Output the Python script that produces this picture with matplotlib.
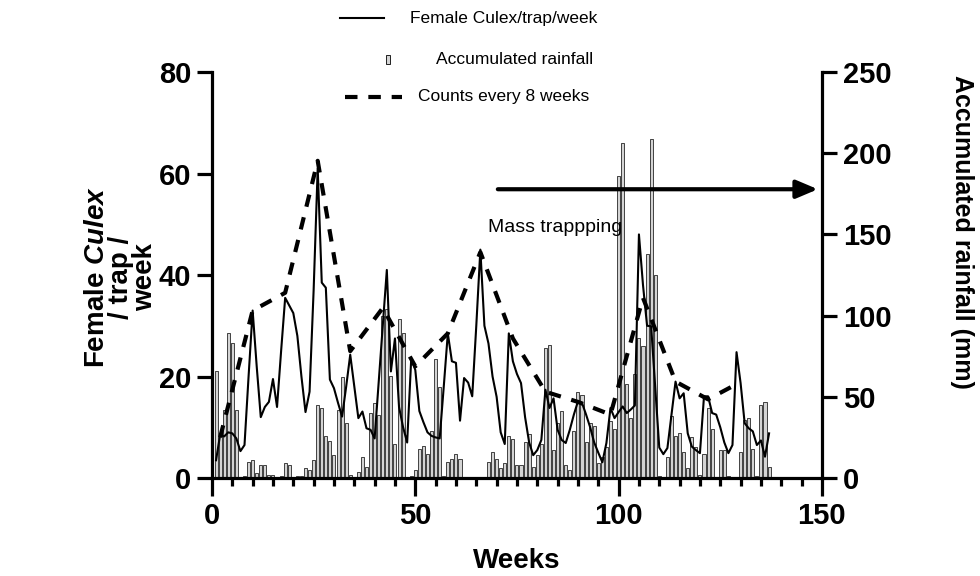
import matplotlib
matplotlib.use("Agg")
import matplotlib.pyplot as plt
import numpy as np
from matplotlib.lines import Line2D
from matplotlib.patches import Rectangle
from matplotlib.ticker import MultipleLocator

plt.rcParams["font.family"] = ["Liberation Sans", "DejaVu Sans"]
plt.rcParams["mathtext.fontset"] = "custom"
plt.rcParams["mathtext.it"] = "Liberation Sans:italic:bold"
plt.rcParams["mathtext.rm"] = "Liberation Sans:bold"

# weekly data, weeks 1..137
weeks = np.arange(1, 138)

rainfall_mm = [
    66, 28, 42, 89, 83, 42, 0, 1, 10, 11,
    3, 8, 8, 2, 2, 0, 1, 9, 8, 0,
    1, 1, 6, 5, 11, 45, 43, 26, 23, 14,
    42, 62, 34, 2, 0, 4, 13, 7, 40, 46,
    39, 100, 104, 63, 21, 98, 89, 0, 1, 5,
    18, 20, 15, 29, 73, 56, 1, 10, 12, 15,
    12, 0, 0, 0, 0, 0, 0, 10, 16, 12,
    6, 9, 26, 24, 8, 8, 22, 27, 7, 14,
    21, 80, 82, 17, 34, 41, 8, 5, 29, 53,
    51, 22, 34, 32, 9, 13, 19, 35, 30, 186,
    206, 58, 37, 64, 86, 81, 138, 209, 125, 1,
    0, 13, 38, 26, 28, 16, 6, 25, 19, 2,
    15, 43, 30, 0, 17, 17, 1, 0, 0, 16,
    36, 37, 18, 1, 45, 47, 7,
]

culex_week = [
    3.5, 8.5, 8.2, 9.0, 8.8, 7.8, 5.3, 6.5, 20, 33,
    22, 12, 14, 15, 19.5, 14, 25, 35.5, 34, 32.5,
    28, 20, 13, 17, 37, 61, 38.5, 37.5, 19.4, 17.7,
    14.8, 12.1, 18, 24.3, 18, 11.8, 13.1, 9.8, 9.5, 7.8,
    19, 30, 41, 21, 27.5, 14, 10, 7, 23.5, 21.3,
    13.2, 11, 9, 8.3, 8, 7.8, 18, 28.5, 23, 22.7,
    11.3, 19.7, 18.8, 16.1, 30, 45, 30, 26.5, 20, 16,
    9, 6.7, 28.5, 23, 20.5, 18.7, 12, 7, 4.5, 5.5,
    7.5, 17.4, 13.8, 15.7, 9.5, 7.5, 6.9, 9.5, 12.5, 15.1,
    14.8, 12.5, 10, 7, 5, 3.1, 6.9, 13.8, 11.8, 13,
    14.1, 12.8, 13.5, 14.3, 48, 38, 30, 29.9, 18, 6,
    4.7, 5.9, 12.5, 19, 15.7, 16.7, 8.8, 6.2, 5.5, 4.9,
    16.1, 16.1, 12.8, 12.5, 10, 7, 4.9, 6.5, 24.8, 18.7,
    10.8, 9.8, 9.2, 6.5, 7.4, 4.2, 8.8,
]

# counts every 8 weeks
weeks_8 = [2, 10, 18, 26, 34, 42, 50, 58, 66, 74, 82, 90, 98, 106, 114, 122, 129]
culex_8 = [8, 33, 36.5, 62.5, 25, 33.5, 22, 28.5, 44.5, 27.5, 17, 15, 12.5, 35.5, 19, 15.5, 18.5]

BAR_FACE = "#d4d4d4"
SPINE_W = 2.3
TICK_FS = 21
LABEL_FS = 20


def main() -> None:
    W, H = 980.0, 576.0
    fig = plt.figure(figsize=(9.8, 5.76), dpi=100)
    ax = fig.add_axes([0.2163, 0.1701, 0.6224, 0.7049])
    ax2 = ax.twinx()

    ax2.bar(weeks, rainfall_mm, width=0.75, color=BAR_FACE, edgecolor="black", linewidth=0.5)
    ax.plot(weeks, culex_week, color="black", linewidth=1.5)
    ax.plot(weeks_8, culex_8, color="black", linewidth=3, linestyle=(0, (3, 2.6)))

    ax.set_zorder(ax2.get_zorder() + 1)
    ax.patch.set_visible(False)

    ax.set_xlim(0, 150)
    ax.set_ylim(0, 80)
    ax2.set_ylim(0, 250)

    ax.xaxis.set_major_locator(MultipleLocator(50))
    ax.xaxis.set_minor_locator(MultipleLocator(5))
    ax.yaxis.set_major_locator(MultipleLocator(20))
    ax2.yaxis.set_major_locator(MultipleLocator(50))

    for s in ["top", "right"]:
        ax.spines[s].set_visible(False)
    for s in ["top", "left", "bottom"]:
        ax2.spines[s].set_visible(False)
    ax.spines["left"].set_linewidth(SPINE_W)
    ax.spines["bottom"].set_linewidth(SPINE_W)
    ax2.spines["right"].set_linewidth(SPINE_W)

    ax.tick_params(axis="x", which="major", length=13, width=SPINE_W, labelsize=TICK_FS, pad=4)
    ax.tick_params(axis="x", which="minor", length=6, width=SPINE_W)
    ax.tick_params(axis="y", length=11, width=SPINE_W, labelsize=TICK_FS, pad=4)
    ax2.tick_params(axis="y", length=11, width=SPINE_W, labelsize=TICK_FS, pad=4)
    for lab in ax.get_xticklabels() + ax.get_yticklabels() + ax2.get_yticklabels():
        lab.set_fontweight("bold")

    ax.set_xlabel("Weeks", fontsize=LABEL_FS, fontweight="bold", labelpad=13)

    # axis titles placed like the original (left one stacked on three lines)
    fig.text(121 / W, 1 - 277 / H, "Female $\\mathit{Culex}$\n/ trap /\nweek", fontsize=LABEL_FS,
             fontweight="bold", rotation=90, ha="center", va="center", multialignment="center",
             linespacing=0.9)
    fig.text(962 / W, 1 - 232 / H, "Accumulated rainfall (mm)", fontsize=18, fontweight="bold",
             rotation=270, ha="center", va="center")

    # mass trapping annotation
    ax.annotate("", xy=(149, 56.9), xytext=(70.3, 56.9),
                arrowprops=dict(arrowstyle="-|>,head_length=1.3,head_width=0.55",
                                color="black", lw=3, shrinkA=0, shrinkB=0))
    ax.text(68, 49.4, "Mass trappping", fontsize=14, va="center", ha="left")

    # legend (stacked, drawn in figure coordinates)
    fig.add_artist(Line2D([340 / W, 384 / W], [1 - 18 / H] * 2, color="black", linewidth=1.5))
    fig.text(410 / W, 1 - 18 / H, "Female Culex/trap/week", fontsize=12.5, va="center")
    fig.add_artist(Rectangle((386 / W, 1 - 64 / H), 4 / W, 9 / H, facecolor=BAR_FACE,
                             edgecolor="black", linewidth=0.6))
    fig.text(436 / W, 1 - 59 / H, "Accumulated rainfall", fontsize=12.5, va="center")
    fig.add_artist(Line2D([345 / W, 402 / W], [1 - 97 / H] * 2, color="black", linewidth=3,
                          linestyle=(0, (3, 2.6))))
    fig.text(418 / W, 1 - 97 / H, "Counts every 8 weeks", fontsize=12.5, va="center")

    fig.savefig("out.png", dpi=100)
    plt.close(fig)


if __name__ == "__main__":
    main()
